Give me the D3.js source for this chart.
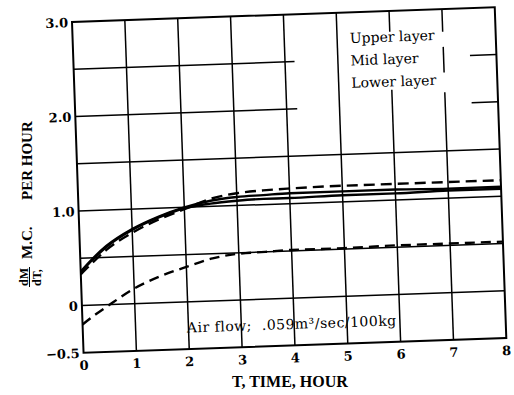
<!DOCTYPE html>
<html>
<head>
<meta charset="utf-8">
<script src="https://cdn.jsdelivr.net/npm/d3@7"></script>
<style>
  body { margin: 0; background: #fff; }
  svg { display: block; }
</style>
</head>
<body>
<script>
// values (rate of moisture change per hour)
var hours       = [0, 0.25, 0.5, 1, 1.5, 2, 2.5, 3, 3.5, 4, 5, 6, 7, 8];
var upperDashed = [0.33, 0.46, 0.58, 0.75, 0.88, 0.98, 1.08, 1.13, 1.15, 1.16, 1.17, 1.17, 1.17, 1.17];
var solidA      = [0.36, 0.50, 0.62, 0.79, 0.91, 1.00, 1.06, 1.09, 1.10, 1.11, 1.11, 1.11, 1.10, 1.10];
var solidB      = [0.35, 0.49, 0.61, 0.78, 0.90, 0.99, 1.03, 1.05, 1.06, 1.06, 1.07, 1.07, 1.08, 1.08];
var lowerDashed = [-0.20, -0.10, -0.01, 0.16, 0.28, 0.37, 0.45, 0.49, 0.50, 0.51, 0.51, 0.52, 0.52, 0.52];

var xTicks = [0, 1, 2, 3, 4, 5, 6, 7, 8];
var yTicks = [3.0, 2.0, 1.0, 0, -0.5];
var yTickLabels = ["3.0", "2.0", "1.0", "0", "\u22120.5"];
var gridX = [1, 2, 3, 4, 5, 6, 7];
var gridY = [0, 0.5, 1.0, 1.5, 2.0, 2.5];
var legendLabels = ["Upper layer", "Mid layer", "Lower layer"];

window.onload = function() {
    var w = 514, h = 395;
    var pw = 423, ph = 331; // plot box size

    var svg = d3.select("body").append("svg")
        .attr("width", w)
        .attr("height", h)
        .style("background", "#fff");

    // the scan is tilted about 2 degrees, so the whole plot is rotated
    var g = svg.append("g")
        .attr("transform", "translate(72,22) rotate(-2)");

    var x = d3.scaleLinear().domain([0, 8]).range([0, pw]);
    var y = d3.scaleLinear().domain([-0.5, 3]).range([ph, 0]);

    // parts of the grid blanked out behind the legend
    var hGaps = { 2.5: [[4.18, 7.5]], 2.0: [[4.2, 7.5]] };
    var vGaps = { 6: [[2.165, 2.78]], 7: [[2.12, 2.33], [2.6, 2.76]] };

    function pieces(lo, hi, gaps) {
        var out = [], start = lo;
        (gaps || []).forEach(function(gp) {
            out.push([start, gp[0]]);
            start = gp[1];
        });
        out.push([start, hi]);
        return out;
    }

    var grid = g.append("g").attr("stroke", "#000").attr("stroke-width", 1.5);
    gridY.forEach(function(v) {
        pieces(0, 8, hGaps[v]).forEach(function(s) {
            grid.append("line")
                .attr("x1", x(s[0])).attr("x2", x(s[1]))
                .attr("y1", y(v)).attr("y2", y(v));
        });
    });
    gridX.forEach(function(t) {
        pieces(-0.5, 3, vGaps[t]).forEach(function(s) {
            grid.append("line")
                .attr("x1", x(t)).attr("x2", x(t))
                .attr("y1", y(s[0])).attr("y2", y(s[1]));
        });
    });

    // plot border
    g.append("rect")
        .attr("x", x(0)).attr("y", y(3))
        .attr("width", x(8) - x(0)).attr("height", y(-0.5) - y(3))
        .attr("fill", "none")
        .attr("stroke", "#000")
        .attr("stroke-width", 2);

    // curves
    var line = d3.line()
        .x(function(d, i) { return x(hours[i]); })
        .y(function(d) { return y(d); })
        .curve(d3.curveMonotoneX);

    var series = [
        { vals: upperDashed, dash: "11,6" },
        { vals: solidA, dash: null },
        { vals: solidB, dash: null },
        { vals: lowerDashed, dash: "10,6" }
    ];
    g.selectAll(".curve")
        .data(series)
        .enter()
        .append("path")
        .attr("class", "curve")
        .attr("d", function(d) { return line(d.vals); })
        .attr("fill", "none")
        .attr("stroke", "#000")
        .attr("stroke-width", 2.4)
        .attr("stroke-dasharray", function(d) { return d.dash; });

    // tick labels
    g.selectAll(".ylab")
        .data(yTicks)
        .enter()
        .append("text")
        .attr("class", "ylab")
        .attr("x", -4)
        .attr("y", function(d) { return y(d) + 5; })
        .attr("text-anchor", "end")
        .style("font", "bold 13px 'DejaVu Serif'")
        .text(function(d, i) { return yTickLabels[i]; });

    g.selectAll(".xlab")
        .data(xTicks)
        .enter()
        .append("text")
        .attr("class", "xlab")
        .attr("x", function(d) { return x(d); })
        .attr("y", ph + 17)
        .attr("text-anchor", "middle")
        .style("font", "bold 13px 'DejaVu Serif'")
        .text(function(d) { return d; });

    // legend labels (no line samples in the scan)
    g.selectAll(".leg")
        .data(legendLabels)
        .enter()
        .append("text")
        .attr("class", "leg")
        .attr("x", x(5.24))
        .attr("y", function(d, i) { return y(2.675 - i * 0.237); })
        .style("font", "14px 'DejaVu Serif'")
        .text(function(d) { return d; });

    // air flow note
    g.append("text")
        .attr("x", x(1.97))
        .attr("y", y(-0.325))
        .attr("xml:space", "preserve")
        .style("white-space", "pre")
        .style("font", "14px 'DejaVu Serif'")
        .style("letter-spacing", "0.5px")
        .text("Air flow;  .059m\u00b3/sec/100kg");

    // axis titles
    svg.append("text")
        .attr("x", 232)
        .attr("y", 387)
        .style("font", "bold 16px 'Liberation Serif'")
        .text("T, TIME, HOUR");

    var ytitle = "bold 15px 'Liberation Serif'";
    svg.append("text")
        .attr("transform", "translate(32,200) rotate(-90)")
        .style("font", ytitle)
        .text("PER HOUR");
    svg.append("text")
        .attr("transform", "translate(32,259) rotate(-90)")
        .style("font", ytitle)
        .text("M.C.");
    svg.append("text")
        .attr("transform", "translate(28,286) rotate(-90)")
        .style("font", "bold 12px 'Liberation Serif'")
        .text("dM");
    svg.append("line")
        .attr("x1", 29.5).attr("x2", 29.5)
        .attr("y1", 287).attr("y2", 267)
        .attr("stroke", "#000")
        .attr("stroke-width", 1);
    svg.append("text")
        .attr("transform", "translate(41,286) rotate(-90)")
        .style("font", "bold 12px 'Liberation Serif'")
        .text("dT,");
};
</script>
</body>
</html>
